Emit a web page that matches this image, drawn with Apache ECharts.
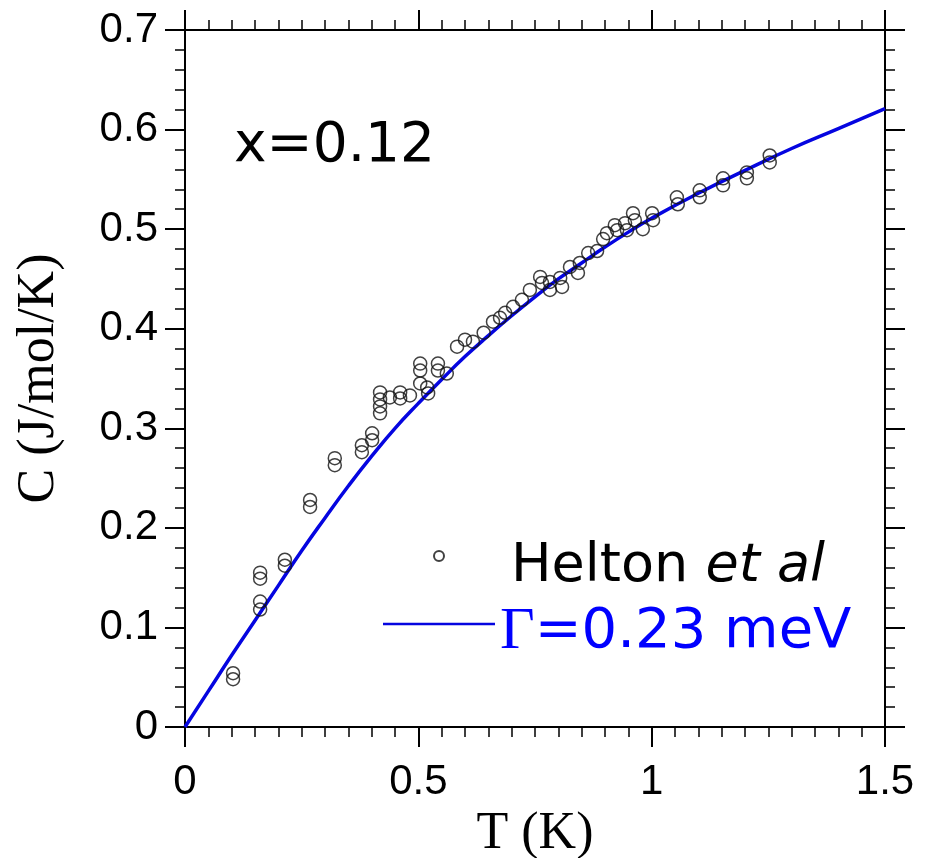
<!DOCTYPE html>
<html><head><meta charset="utf-8">
<script src="https://cdn.jsdelivr.net/npm/echarts@6/dist/echarts.min.js"></script>
<style>html,body{margin:0;padding:0;background:#fff}#c{width:936px;height:858px}</style>
</head><body><div id="c"></div>
<script>
// Measured data (Helton et al), T in K, C in J/mol/K
const dataT = [0.103,0.103,0.161,0.161,0.161,0.161,0.214,0.214,0.268,0.268,0.321,0.321,0.379,0.379,0.401,0.401,
  0.418,0.418,0.418,0.418,0.439,0.461,0.461,0.482,0.504,0.504,0.504,0.519,0.521,0.542,0.542,0.561,0.583,0.600,0.617,
  0.640,0.660,0.675,0.686,0.703,0.722,0.739,0.761,0.765,0.782,0.782,0.804,0.808,0.825,0.842,0.846,0.864,0.883,
  0.896,0.904,0.921,0.926,0.943,0.947,0.960,0.964,0.981,1.001,1.003,1.054,1.056,1.103,1.103,1.153,1.153,1.204,1.204,1.253,1.253];
const dataC = [0.054,0.048,0.155,0.149,0.126,0.118,0.168,0.162,0.228,0.221,0.270,0.263,0.283,0.276,0.295,0.288,
  0.336,0.329,0.322,0.315,0.331,0.336,0.330,0.333,0.365,0.358,0.345,0.341,0.335,0.365,0.358,0.355,0.382,0.389,0.387,
  0.396,0.407,0.411,0.416,0.422,0.429,0.439,0.452,0.446,0.439,0.447,0.451,0.442,0.462,0.456,0.466,0.476,0.478,
  0.490,0.496,0.504,0.499,0.506,0.499,0.516,0.509,0.500,0.516,0.509,0.532,0.525,0.539,0.532,0.551,0.544,0.557,0.551,0.574,0.567];
// Model curve, Gamma = 0.23 meV
const fitT = [0,0.05,0.1,0.15,0.2,0.25,0.3,0.35,0.4,0.45,0.5,0.55,0.6,0.65,0.7,0.75,0.8,0.85,0.9,0.95,1.0,1.1,1.2,1.3,1.4,1.5];
const fitC = [0,0.036,0.072,0.107,0.142,0.177,0.210,0.242,0.272,0.300,0.325,0.349,0.372,0.393,0.413,0.432,0.450,0.466,0.482,0.497,0.511,0.536,0.559,0.581,0.601,0.621];
const xTicks = ['0','0.5','1','1.5'];
const yTicks = ['0','0.1','0.2','0.3','0.4','0.5','0.6','0.7'];
const label1 = 'Helton ';
const label1i = 'et al';
const label2g = 'Γ';
const label2 = '=0.23 meV';

const chart = echarts.init(document.getElementById('c'), null, {renderer:'canvas'});
const sans = 'Liberation Sans';
const axLine = {show:true, onZero:false, lineStyle:{color:'#000', width:2}};
const xTick = {show:true, inside:false, length:20, lineStyle:{color:'#000', width:2}};
const xMinor = {show:true, splitNumber:10, length:10, lineStyle:{color:'#000', width:1.5}};
const yTick = {show:true, inside:false, length:20, lineStyle:{color:'#000', width:2}};
const yMinor = {show:true, splitNumber:5, length:10, lineStyle:{color:'#000', width:1.5}};
const scatterPts = dataT.map((t,i)=>[t,dataC[i]]);
const fitPts = fitT.map((t,i)=>[t,fitC[i]]);

chart.setOption({
  animation:false,
  backgroundColor:'#fff',
  grid:{left:185, right:51, top:30, bottom:131, outerBoundsMode:'none', containLabel:false},
  title:{text:'x=0.12', left:234, top:119, padding:0,
    textStyle:{fontFamily:'DejaVu Sans', fontSize:55, fontWeight:'normal', color:'#000'}},
  xAxis:[
    {type:'value', position:'bottom', min:0, max:1.5, interval:0.5,
     axisLine:axLine, axisTick:xTick, minorTick:xMinor, splitLine:{show:false}, minorSplitLine:{show:false},
     axisLabel:{fontFamily:sans, fontSize:42, color:'#000', margin:34, formatter:(v)=>xTicks[Math.round(v/0.5)]},
     name:'T (K)', nameLocation:'middle', nameGap:72,
     nameTextStyle:{fontFamily:'Liberation Serif', fontSize:52, color:'#000'}},
    {type:'value', position:'top', min:0, max:1.5, interval:0.5,
     axisLine:axLine, axisTick:xTick, minorTick:xMinor, splitLine:{show:false}, axisLabel:{show:false}}
  ],
  yAxis:[
    {type:'value', position:'left', min:0, max:0.7, interval:0.1,
     axisLine:axLine, axisTick:yTick, minorTick:yMinor, splitLine:{show:false}, minorSplitLine:{show:false},
     axisLabel:{fontFamily:sans, fontSize:42, color:'#000', margin:27, formatter:(v)=>yTicks[Math.round(v/0.1)]},
     name:'C (J/mol/K)', nameLocation:'middle', nameGap:120, nameRotate:90,
     nameTextStyle:{fontFamily:'Liberation Serif', fontSize:52, color:'#000'}},
    {type:'value', position:'right', min:0, max:0.7, interval:0.1,
     axisLine:axLine, axisTick:yTick, minorTick:yMinor, splitLine:{show:false}, axisLabel:{show:false}}
  ],
  legend:[
    {data:['Helton et al'], left:433, top:515, padding:0, itemWidth:10, itemHeight:10, selectedMode:false,
     formatter:()=>'{n|'+label1+'}{i|'+label1i+'}',
     textStyle:{fontFamily:'DejaVu Sans', fontSize:54, lineHeight:60, color:'#000', padding:[22,0,0,62],
       rich:{n:{fontFamily:'DejaVu Sans', fontSize:54, lineHeight:60, color:'#000'},
             i:{fontFamily:'DejaVu Sans', fontStyle:'italic', fontSize:54, lineHeight:60, color:'#000'}}}},
    {data:[{name:'fit', icon:'rect'}], left:383, top:586, padding:0, itemWidth:112, itemHeight:2.5, selectedMode:false,
     formatter:()=>'{g|'+label2g+'}{t|'+label2+'}',
     textStyle:{fontFamily:'DejaVu Sans', fontSize:56, lineHeight:60, color:'#0000ff', padding:[16,0,0,0],
       rich:{g:{fontFamily:'Liberation Serif', fontSize:60, lineHeight:60, color:'#0000ff'},
             t:{fontFamily:'DejaVu Sans', fontSize:56, lineHeight:60, color:'#0000ff'}}}}
  ],
  series:[
    {name:'fit', type:'line', xAxisIndex:0, yAxisIndex:0, data:fitPts, smooth:true, showSymbol:false, symbol:'none',
     lineStyle:{color:'#0505e0', width:3.5}, itemStyle:{color:'#0505e0'}, z:2},
    {name:'Helton et al', type:'scatter', xAxisIndex:0, yAxisIndex:0, data:scatterPts, symbol:'circle', symbolSize:13,
     itemStyle:{color:'rgba(0,0,0,0)', borderColor:'#111', borderWidth:1.5}, z:3}
  ]
});
</script></body></html>
